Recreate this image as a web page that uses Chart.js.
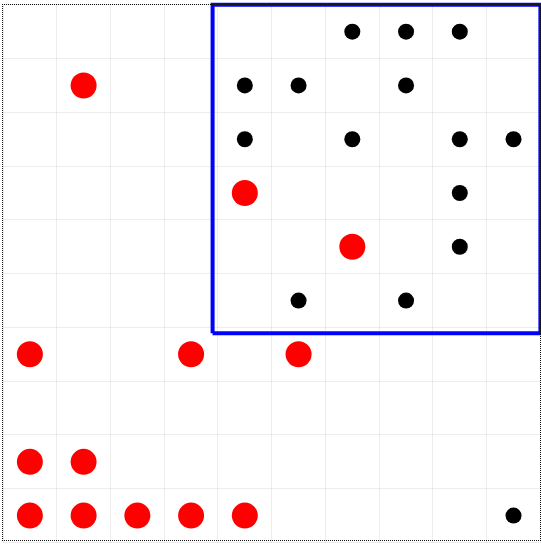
<!DOCTYPE html>
<html>
<head>
<meta charset="utf-8">
<script src="https://cdn.jsdelivr.net/npm/chart.js@4/dist/chart.umd.min.js"></script>
<style>
  html, body { margin: 0; padding: 0; background: #fff; }
  #wrap { position: absolute; left: 0; top: 0; width: 541px; height: 544px; }
  #frame { position: absolute; left: 2px; top: 4px; width: 537px; height: 535px; border: 1px dotted #111; pointer-events: none; }
</style>
</head>
<body>
<div id="wrap"><canvas id="c" width="541" height="544"></canvas></div>
<div id="frame"></div>
<script>
const redX = [1.5, 4.5, 6.5, 0.5, 3.5, 5.5, 0.5, 1.5, 0.5, 1.5, 2.5, 3.5, 4.5];
const redY = [8.5, 6.5, 5.5, 3.5, 3.5, 3.5, 1.5, 1.5, 0.5, 0.5, 0.5, 0.5, 0.5];
const blackX = [6.5, 7.5, 8.5, 4.5, 5.5, 7.5, 4.5, 6.5, 8.5, 9.5, 8.5, 8.5, 5.5, 7.5, 9.5];
const blackY = [9.5, 9.5, 9.5, 8.5, 8.5, 8.5, 7.5, 7.5, 7.5, 7.5, 6.5, 5.5, 4.5, 4.5, 0.5];
const boxX = [3.9, 3.9, 10, 10, 3.9];
const boxY = [3.89, 10, 10, 3.89, 3.89];

const pts = (xs, ys) => xs.map((x, i) => ({ x: x, y: ys[i] }));

new Chart(document.getElementById('c'), {
  type: 'scatter',
  data: {
    datasets: [
      { data: pts(redX, redY), backgroundColor: '#ff0000', borderColor: '#ff0000', pointRadius: 13, borderWidth: 0, order: 2 },
      { data: pts(blackX, blackY), backgroundColor: '#000000', borderColor: '#000000', pointRadius: 8, borderWidth: 0, order: 2 },
      { data: pts(boxX, boxY), showLine: true, borderColor: '#0000ff', borderWidth: 4, pointRadius: 0, fill: false, order: 1, borderJoinStyle: 'miter', clip: false }
    ]
  },
  options: {
    responsive: false,
    animation: false,
    events: [],
    layout: { autoPadding: false, padding: { left: 3, right: 0.6, top: 4.8, bottom: 1.5 } },
    plugins: { legend: { display: false }, tooltip: { enabled: false } },
    scales: {
      x: { type: 'linear', min: 0, max: 10, ticks: { display: false, stepSize: 1 }, grid: { drawTicks: false, color: 'rgba(0,0,0,0.07)' }, border: { display: false } },
      y: { type: 'linear', min: 0, max: 10, ticks: { display: false, stepSize: 1 }, grid: { drawTicks: false, color: 'rgba(0,0,0,0.07)' }, border: { display: false } }
    }
  }
});
</script>
</body>
</html>
